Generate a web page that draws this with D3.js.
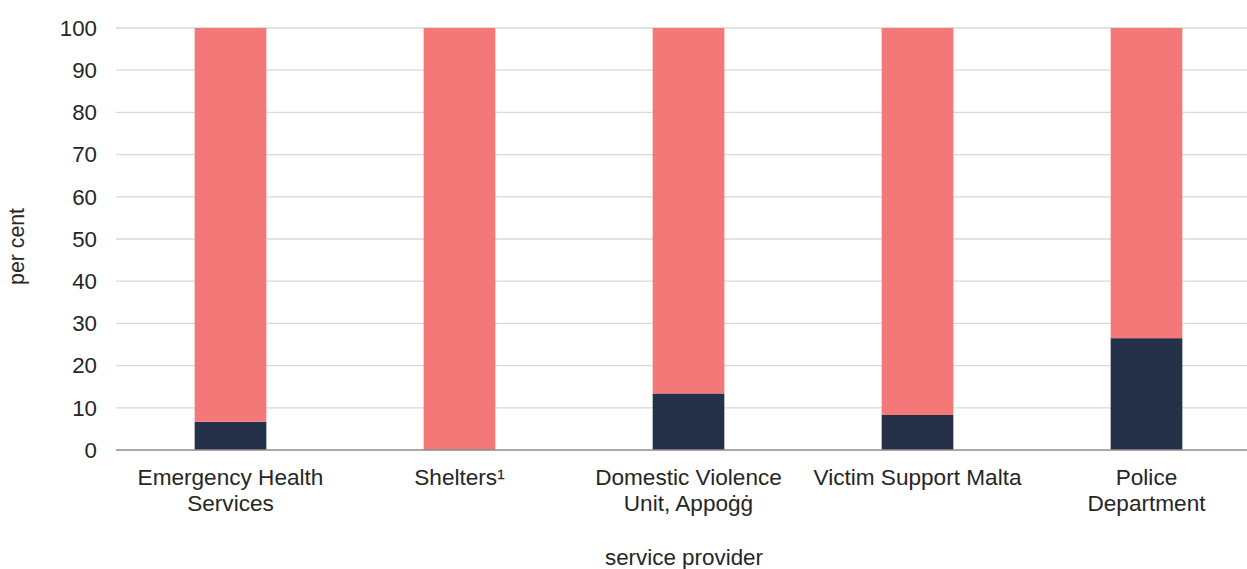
<!DOCTYPE html>
<html><head><meta charset="utf-8">
<script src="https://cdn.jsdelivr.net/npm/d3@7"></script>
<style>
html,body{margin:0;padding:0;background:#fff;}
text{font-family:"Liberation Sans",Arial,sans-serif;fill:#262626;}
</style></head>
<body><svg id="c" width="1247" height="569"></svg>
<script>
const categories = [["Emergency Health","Services"],["Shelters¹"],["Domestic Violence","Unit, Appoġġ"],["Victim Support Malta"],["Police","Department"]];
const darkValues = [6.7, 0, 13.4, 8.3, 26.5];
const pinkValues = [93.3, 100, 86.6, 91.7, 73.5];
const yTicks = [0,10,20,30,40,50,60,70,80,90,100];
const colors = {dark:"#253049", pink:"#F37877"};

const svg = d3.select("#c");
const x = d3.scaleBand().domain(d3.range(categories.length)).range([116,1261]).paddingInner(0.687).paddingOuter(0.3435);
const y = d3.scaleLinear().domain([0,100]).range([450,28]);

// gridlines
svg.append("g").selectAll("line").data(yTicks.filter(d=>d>0)).join("line")
  .attr("x1",116).attr("x2",1261).attr("y1",d=>y(d)).attr("y2",d=>y(d))
  .attr("stroke","#d9d9d9").attr("stroke-width",1.3);

// y tick labels
svg.append("g").selectAll("text").data(yTicks).join("text")
  .attr("x",97).attr("y",d=>y(d)).attr("dy","0.35em").attr("text-anchor","end")
  .style("font-size","22.3px").text(d=>d);

// bars
const stacked = categories.map((c,i)=>({i, dark:darkValues[i], pink:pinkValues[i]}));
const g = svg.append("g");
g.selectAll("rect.dark").data(stacked).join("rect").attr("class","dark")
  .attr("x",d=>x(d.i)).attr("width",x.bandwidth())
  .attr("y",d=>y(d.dark)).attr("height",d=>y(0)-y(d.dark)).attr("fill",colors.dark);
g.selectAll("rect.pink").data(stacked).join("rect").attr("class","pink")
  .attr("x",d=>x(d.i)).attr("width",x.bandwidth())
  .attr("y",d=>y(d.dark+d.pink)).attr("height",d=>y(d.dark)-y(d.dark+d.pink)).attr("fill",colors.pink);

// baseline
svg.append("line").attr("x1",116).attr("x2",1261).attr("y1",y(0)).attr("y2",y(0))
  .attr("stroke","#8c8c8c").attr("stroke-width",1.5);

// category labels
const lab = svg.append("g").selectAll("text").data(categories).join("text")
  .attr("text-anchor","middle").style("font-size","22.6px");
lab.each(function(d,i){
  const t = d3.select(this);
  d.forEach((line,k)=>{
    t.append("tspan").attr("x",x(i)+x.bandwidth()/2).attr("y",485+k*26).text(line);
  });
});

// axis titles
svg.append("text").attr("transform","translate(24,246.5) rotate(-90)")
  .attr("text-anchor","middle").style("font-size","21.3px").text("per cent");
svg.append("text").attr("x",684).attr("y",565).attr("text-anchor","middle")
  .style("font-size","22.4px").text("service provider");
</script></body></html>
